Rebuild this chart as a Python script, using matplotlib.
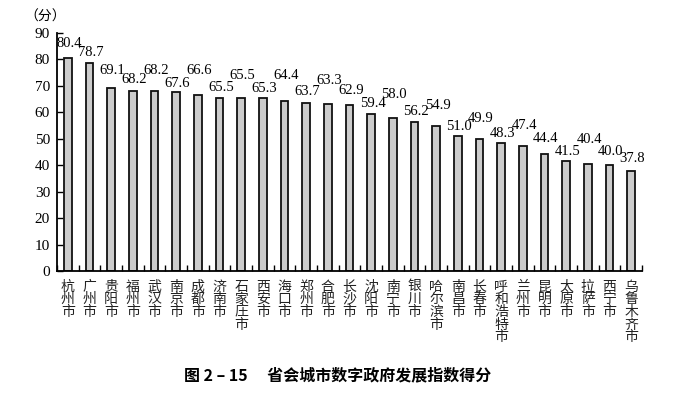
import numpy as np
import matplotlib.pyplot as plt

cities = ['杭州市', '广州市', '贵阳市', '福州市', '武汉市', '南京市', '成都市', '济南市',
          '石家庄市', '西安市', '海口市', '郑州市', '合肥市', '长沙市', '沈阳市', '南宁市',
          '银川市', '哈尔滨市', '南昌市', '长春市', '呼和浩特市', '兰州市', '昆明市', '太原市',
          '拉萨市', '西宁市', '乌鲁木齐市']
scores = [80.4, 78.7, 69.1, 68.2, 68.2, 67.6, 66.6, 65.5, 65.5, 65.3, 64.4, 63.7, 63.3,
          62.9, 59.4, 58.0, 56.2, 54.9, 51.0, 49.9, 48.3, 47.4, 44.4, 41.5, 40.4, 40.0, 37.8]
yticks = [0, 10, 20, 30, 40, 50, 60, 70, 80, 90]

# how far each value label sits above its bar (points) - staggered so they don't collide
label_gap = [6, 2.5, 8.3, 3.2, 9.7, 1.8, 12.6, 2.5, 11.2, 2.5, 13.3, 3.2, 11.9, 5.4,
             3.2, 11.9, 3.2, 9.7, 2.5, 10.4, 2.5, 9.7, 6, 2.5, 13.3, 5.4, 4.7]

cjk = ['Noto Sans CJK SC', 'DejaVu Sans']
num_font = 'Liberation Serif'

fig = plt.figure(figsize=(6.84, 3.98), dpi=100)
ax = fig.add_axes([0.0833, 0.319, 0.8553, 0.598])

x = np.arange(len(cities))
ax.bar(x, scores, width=0.35, color='#cccccc', edgecolor='#111111', linewidth=1.3, zorder=2)

for i, v in enumerate(scores):
    ax.annotate(f'{v:.1f}', (i, v), xytext=(1, label_gap[i]), textcoords='offset points',
                ha='center', va='bottom', fontsize=10.5, family=num_font)

ax.set_xlim(-0.5, len(cities) - 0.5)
ax.set_ylim(0, 90)
ax.set_yticks(yticks)
ax.set_yticklabels([str(t) for t in yticks], family=num_font, fontsize=11)
ax.tick_params(axis='y', direction='in', length=4, width=1, pad=5)

# x ticks sit between bars, pointing up
ax.set_xticks(np.arange(len(cities) + 1) - 0.5)
ax.set_xticklabels([])
ax.tick_params(axis='x', direction='in', length=4, width=1)
for i, c in enumerate(cities):
    ax.text(i, -3.2, '\n'.join(c), ha='center', va='top', fontsize=10,
            family=cjk, linespacing=0.88, color='#222222')

for s in ['top', 'right']:
    ax.spines[s].set_visible(False)
for s in ['left', 'bottom']:
    ax.spines[s].set_linewidth(1.3)

fig.text(0.035, 0.957, '（分）', fontsize=10, family=cjk, ha='left', va='center')
fig.text(0.493, 0.058, '图 2 – 15　 省会城市数字政府发展指数得分', fontsize=11.5,
         family=cjk, fontweight='bold', ha='center', va='center')

fig.savefig('out.png', dpi=100)
